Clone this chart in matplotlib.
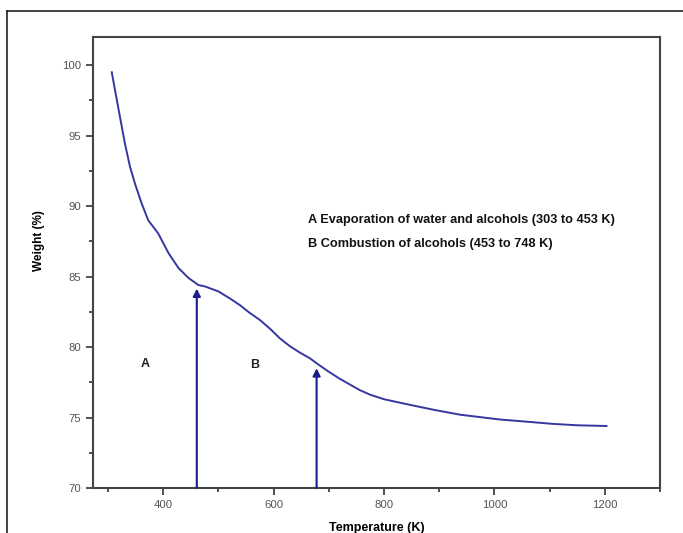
import matplotlib
matplotlib.use("Agg")
import matplotlib.pyplot as plt
from matplotlib.lines import Line2D
from matplotlib.ticker import MultipleLocator

plt.rcParams['font.family'] = ['Liberation Sans', 'DejaVu Sans']

temperature = [307, 313, 322, 331, 340, 349, 361, 373, 391, 410, 428, 446, 464,
               476, 500, 521, 540, 556, 576, 595, 612, 630, 648, 666, 678, 700,
               720, 738, 756, 775, 800, 841, 890, 938, 1010, 1060, 1106, 1150, 1203]
weight = [99.5, 98.2, 96.3, 94.4, 92.8, 91.6, 90.2, 89.0, 88.07, 86.65, 85.6, 84.9, 84.4,
          84.3, 83.95, 83.45, 82.95, 82.45, 81.9, 81.25, 80.6, 80.05, 79.6, 79.2, 78.85, 78.25,
          77.75, 77.35, 76.95, 76.62, 76.3, 75.95, 75.55, 75.2, 74.86, 74.7, 74.55, 74.45, 74.4]

arrow_x = [461, 678]
arrow_tip = [84.15, 78.5]
region_labels = ['A', 'B']
region_x = [367, 566]
region_y = [78.8, 78.7]
notes = ['A Evaporation of water and alcohols (303 to 453 K)',
         'B Combustion of alcohols (453 to 748 K)']
notes_y = [89.0, 87.3]

fig = plt.figure(figsize=(6.83, 5.33), dpi=100)
ax = fig.add_axes([93/683, 1-488/533, (660-93)/683, (488-37)/533])

ax.plot(temperature, weight, color='#3636a0', lw=1.4)

for xa, yt in zip(arrow_x, arrow_tip):
    ax.annotate('', xy=(xa, yt), xytext=(xa, 70), xycoords='data',
                arrowprops=dict(arrowstyle='-|>', color='#1c1c8a', lw=1.5,
                                mutation_scale=11, shrinkA=0, shrinkB=0))

for lab, x, y in zip(region_labels, region_x, region_y):
    ax.text(x, y, lab, fontsize=9, fontweight='bold', ha='center', va='center', color='#222222')

for t, y in zip(notes, notes_y):
    ax.text(662, y, t, fontsize=9.2, fontweight='bold', ha='left', va='center', color='#111111')

ax.set_xlim(273, 1300)
ax.set_ylim(70, 102)
ax.xaxis.set_major_locator(MultipleLocator(200))
ax.xaxis.set_minor_locator(MultipleLocator(100))
ax.yaxis.set_major_locator(MultipleLocator(5))
ax.yaxis.set_minor_locator(MultipleLocator(2.5))
ax.tick_params(which='both', direction='out', width=1.2, colors='#333333',
               labelcolor='#555555', labelsize=8.2, top=False, right=False)
ax.tick_params(which='major', length=5)
ax.tick_params(which='minor', length=3)
for s in ax.spines.values():
    s.set_color('#444444')
    s.set_linewidth(1.5)

ax.set_xlabel('Temperature (K)', fontsize=9, fontweight='bold', labelpad=9)
ax.set_ylabel('Weight (%)', fontsize=8.5, fontweight='bold')
ax.yaxis.set_label_coords((45-93)/567, (488-241)/451)

fig.add_artist(Line2D([7/683, 7/683], [0, 1-11/533], color='#222222', lw=1.2))
fig.add_artist(Line2D([7/683, 1], [1-11/533, 1-11/533], color='#222222', lw=1.2))

fig.savefig('out.png', dpi=100)
